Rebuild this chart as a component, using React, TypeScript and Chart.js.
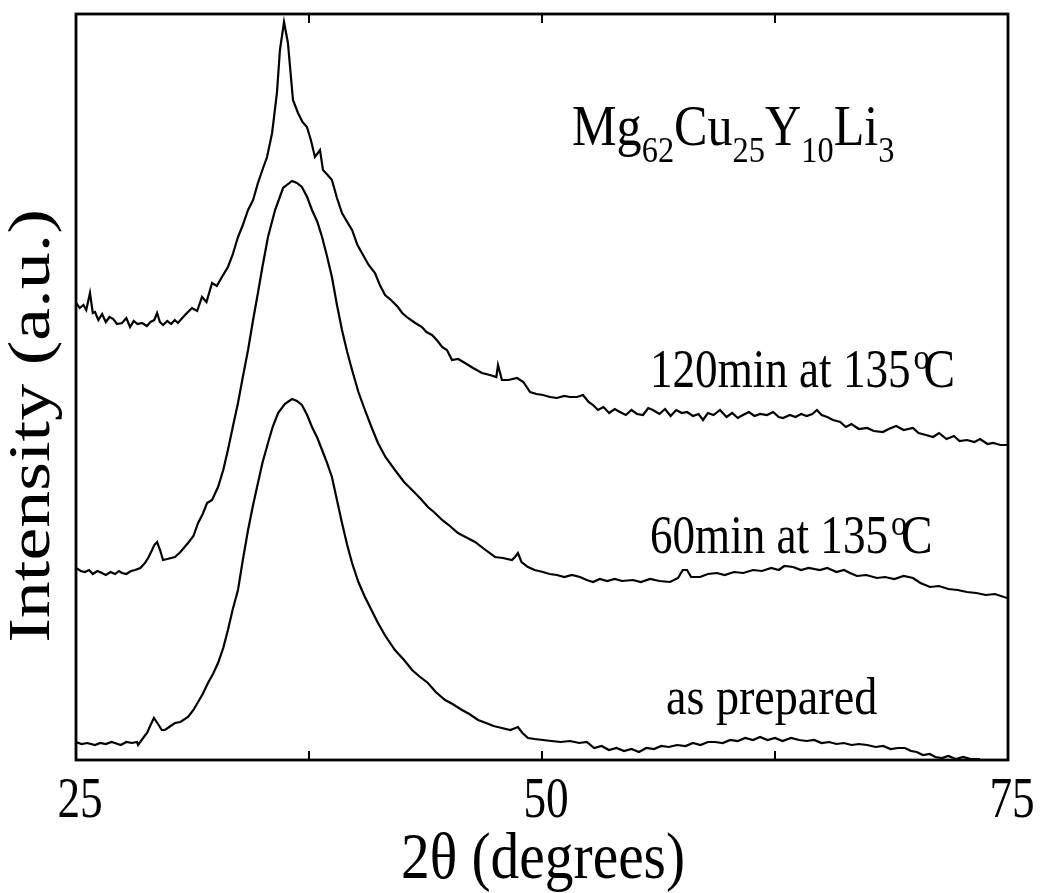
import React, { useEffect, useRef } from "react";
import { Chart, registerables } from "chart.js";

Chart.register(...registerables);

// 2θ (degrees) and intensity (a.u.) for each pattern
const x120 = [25.0, 25.2, 25.4, 25.55, 25.75, 25.9, 26.02, 26.2, 26.4, 26.6, 26.8, 27.0, 27.2, 27.47, 27.7, 27.9, 28.1, 28.3, 28.54, 28.8, 29.0, 29.2, 29.35, 29.5, 29.67, 29.9, 30.1, 30.3, 30.47, 30.7, 30.9, 31.22, 31.5, 31.76, 32.0, 32.3, 32.55, 32.83, 33.15, 33.4, 33.69, 33.95, 34.23, 34.5, 34.76, 35.0, 35.25, 35.52, 35.78, 35.94, 36.16, 36.37, 36.64, 36.91, 37.15, 37.39, 37.6, 37.82, 38.09, 38.25, 38.5, 38.73, 39.0, 39.27, 39.55, 39.81, 40.1, 40.34, 40.7, 41.04, 41.3, 41.58, 41.9, 42.27, 42.5, 42.81, 43.2, 43.56, 43.8, 44.1, 44.4, 44.64, 44.9, 45.17, 45.5, 45.87, 46.3, 46.78, 47.2, 47.55, 47.64, 47.85, 48.2, 48.66, 49.0, 49.36, 49.7, 50.05, 50.43, 50.8, 51.2, 51.5, 51.88, 52.2, 52.5, 52.74, 53.0, 53.3, 53.6, 53.9, 54.18, 54.5, 54.8, 55.1, 55.42, 55.7, 55.95, 56.3, 56.6, 56.9, 57.2, 57.5, 57.78, 58.1, 58.4, 58.64, 58.9, 59.2, 59.55, 59.9, 60.2, 60.5, 60.78, 61.1, 61.4, 61.7, 62.07, 62.4, 62.7, 62.93, 63.3, 63.6, 63.9, 64.2, 64.5, 64.75, 65.0, 65.3, 65.61, 66.0, 66.3, 66.6, 67.0, 67.44, 67.8, 68.29, 68.6, 69.0, 69.4, 69.9, 70.2, 70.6, 70.98, 71.3, 71.7, 72.1, 72.4, 72.8, 73.2, 73.5, 73.9, 74.2, 74.6, 74.95];
const y120 = [457, 452, 455, 450, 467, 447, 448, 440, 446, 438, 443, 441, 436, 437, 442, 433, 439, 436, 437, 434, 438, 440, 447, 438, 435, 439, 436, 440, 437, 442, 446, 452, 449, 463, 458, 477, 474, 483, 493, 505, 523, 535, 550, 560, 577, 590, 603, 627, 667, 710, 738, 717, 660, 647, 638, 633, 620, 603, 610, 590, 585, 580, 562, 547, 538, 530, 515, 507, 495, 487, 475, 465, 460, 453, 447, 442, 437, 433, 428, 425, 419, 413, 410, 400, 401, 397, 392, 387, 385, 383, 395, 380, 380, 382, 378, 368, 366, 365, 363, 362, 364, 363, 363, 365, 358, 355, 350, 353, 347, 351, 348, 345, 350, 346, 345, 352, 350, 346, 351, 344, 350, 347, 348, 344, 346, 340, 347, 345, 350, 343, 347, 342, 345, 348, 344, 346, 345, 348, 343, 342, 345, 343, 346, 344, 346, 350, 345, 343, 340, 338, 333, 336, 331, 332, 329, 328, 331, 334, 330, 332, 327, 325, 323, 327, 321, 324, 319, 320, 318, 321, 316, 317, 315, 315];

const x60 = [25.0, 25.25, 25.48, 25.7, 25.9, 26.15, 26.39, 26.6, 26.85, 27.1, 27.3, 27.47, 27.7, 27.95, 28.17, 28.45, 28.7, 28.9, 29.08, 29.2, 29.35, 29.51, 29.67, 29.9, 30.1, 30.31, 30.6, 31.01, 31.3, 31.55, 31.8, 32.03, 32.3, 32.62, 32.9, 33.15, 33.4, 33.69, 33.95, 34.23, 34.5, 34.76, 35.0, 35.3, 35.68, 36.11, 36.59, 36.85, 37.12, 37.4, 37.66, 37.95, 38.2, 38.45, 38.73, 39.0, 39.27, 39.55, 39.81, 40.15, 40.5, 40.85, 41.2, 41.6, 42.11, 42.6, 43.19, 43.5, 43.88, 44.2, 44.64, 45.0, 45.49, 46.0, 46.41, 46.9, 47.48, 47.9, 48.39, 48.55, 48.71, 48.9, 49.25, 49.6, 50.05, 50.4, 50.8, 51.2, 51.6, 52.04, 52.4, 52.74, 53.1, 53.5, 53.9, 54.3, 54.88, 55.3, 55.8, 56.3, 56.87, 57.3, 57.55, 57.78, 58.0, 58.48, 58.9, 59.39, 59.8, 60.3, 60.8, 61.32, 61.8, 62.3, 62.7, 63.0, 63.47, 63.9, 64.3, 64.91, 65.3, 65.8, 66.2, 66.52, 66.9, 67.4, 67.97, 68.4, 68.9, 69.4, 69.9, 70.3, 70.82, 71.3, 71.8, 72.3, 72.8, 73.3, 73.8, 74.3, 74.95];
const y60 = [192, 189, 188, 190, 186, 189, 187, 185, 188, 186, 189, 187, 186, 189, 190, 192, 197, 203, 210, 215, 218, 210, 200, 201, 202, 203, 208, 217, 224, 237, 246, 257, 260, 273, 290, 310, 332, 357, 383, 410, 440, 467, 493, 523, 550, 572, 579, 577, 573, 563, 550, 538, 523, 505, 483, 455, 430, 408, 390, 368, 350, 333, 317, 303, 290, 278, 267, 261, 253, 248, 240, 235, 227, 222, 218, 211, 203, 202, 200, 203, 207, 198, 193, 190, 188, 186, 185, 183, 185, 183, 180, 178, 181, 179, 181, 179, 180, 178, 181, 179, 178, 182, 190, 190, 183, 183, 186, 187, 185, 188, 187, 190, 189, 192, 190, 194, 193, 190, 192, 190, 192, 188, 190, 187, 184, 185, 182, 183, 181, 184, 182, 177, 173, 174, 171, 170, 168, 167, 165, 166, 162];

const xPrep = [25.0, 25.3, 25.6, 26.02, 26.3, 26.6, 26.9, 27.09, 27.4, 27.7, 28.0, 28.27, 28.33, 28.6, 28.81, 29.0, 29.18, 29.4, 29.6, 29.77, 30.0, 30.31, 30.6, 31.01, 31.3, 31.55, 31.8, 32.08, 32.35, 32.62, 32.9, 33.15, 33.4, 33.69, 33.95, 34.23, 34.5, 34.76, 35.0, 35.3, 35.55, 35.84, 36.2, 36.59, 36.85, 37.12, 37.4, 37.66, 37.95, 38.2, 38.45, 38.73, 39.0, 39.27, 39.55, 39.81, 40.15, 40.5, 40.85, 41.2, 41.6, 42.11, 42.6, 43.03, 43.4, 43.88, 44.3, 44.8, 45.2, 45.71, 46.1, 46.57, 47.0, 47.4, 47.85, 48.3, 48.71, 48.95, 49.25, 49.6, 50.05, 50.5, 51.0, 51.5, 52.0, 52.4, 52.8, 53.2, 53.59, 54.0, 54.4, 54.8, 55.2, 55.6, 56.0, 56.4, 56.8, 57.24, 57.7, 58.1, 58.5, 58.9, 59.28, 59.7, 60.1, 60.5, 60.9, 61.32, 61.7, 62.1, 62.5, 62.9, 63.36, 63.8, 64.2, 64.6, 65.0, 65.4, 65.8, 66.2, 66.6, 67.0, 67.44, 67.9, 68.3, 68.7, 69.1, 69.47, 69.8, 70.1, 70.44, 70.8, 71.1, 71.46, 71.8, 72.2, 72.6, 73.0, 73.5];
const yPrep = [18, 16, 17, 15, 17, 16, 18, 17, 15, 18, 17, 18, 15, 22, 27, 35, 42, 36, 30, 30, 33, 37, 38, 43, 50, 58, 66, 77, 86, 97, 112, 130, 150, 170, 200, 230, 255, 277, 297, 317, 333, 347, 356, 361, 359, 355, 345, 333, 322, 310, 298, 283, 260, 237, 215, 197, 178, 163, 150, 137, 124, 110, 100, 90, 84, 77, 68, 60, 56, 50, 46, 40, 37, 34, 32, 30, 33, 27, 22, 21, 20, 19, 18, 19, 17, 18, 12, 14, 10, 12, 9, 11, 8, 12, 11, 14, 13, 15, 14, 17, 15, 18, 18, 17, 20, 19, 22, 20, 23, 20, 22, 19, 22, 20, 19, 20, 17, 18, 16, 17, 15, 16, 15, 13, 14, 11, 12, 12, 9, 8, 5, 6, 3, 2, 4, 1, 3, 1, 1];

const xTickLabels = [25, 50, 75];
const xMinorTicks = [37.5, 50, 62.5];

const FONT = '"Liberation Serif", "Times New Roman", serif';

function sText(ctx: CanvasRenderingContext2D, txt: string, x: number, y: number, size: number, sx: number, align: CanvasTextAlign = "left", rot = 0) {
  ctx.save();
  ctx.translate(x, y);
  ctx.scale(sx, 1);
  if (rot) ctx.rotate(rot);
  ctx.font = `${size}px ${FONT}`;
  ctx.textAlign = align;
  ctx.textBaseline = "alphabetic";
  ctx.fillStyle = "#000";
  ctx.fillText(txt, 0, 0);
  ctx.restore();
}

function sWidth(ctx: CanvasRenderingContext2D, txt: string, size: number, sx: number) {
  ctx.save();
  ctx.font = `${size}px ${FONT}`;
  const w = ctx.measureText(txt).width * sx;
  ctx.restore();
  return w;
}

const decorPlugin = {
  id: "decor",
  afterDraw(chart: any) {
    const ctx: CanvasRenderingContext2D = chart.ctx;
    const { left, right, top, bottom } = chart.chartArea;
    const xs = chart.scales.x;
    ctx.save();
    ctx.strokeStyle = "#000";
    ctx.lineWidth = 2.8;
    ctx.strokeRect(left, top, right - left, bottom - top);
    ctx.lineWidth = 2;
    for (const v of xMinorTicks) {
      const px = xs.getPixelForValue(v);
      ctx.beginPath();
      ctx.moveTo(px, top);
      ctx.lineTo(px, top + 9);
      ctx.moveTo(px, bottom);
      ctx.lineTo(px, bottom - 9);
      ctx.stroke();
    }
    ctx.restore();

    // tick labels
    for (const v of xTickLabels) {
      sText(ctx, String(v), xs.getPixelForValue(v) + 4, 817, 58, 0.78, "center");
    }
    // axis titles
    sText(ctx, "2θ (degrees)", 543, 878, 66, 0.87, "center");
    sText(ctx, "Intensity (a.u.)", 49, 426, 74, 0.8, "center", -Math.PI / 2);

    // formula
    const parts: [string, boolean][] = [["Mg", false], ["62", true], ["Cu", false], ["25", true], ["Y", false], ["10", true], ["Li", false], ["3", true]];
    let cx = 572;
    for (const [t, sub] of parts) {
      const size = sub ? 36 : 57;
      const sx = sub ? 0.9 : 0.88;
      sText(ctx, t, cx, sub ? 162 : 145, size, sx, "left");
      cx += sWidth(ctx, t, size, sx);
    }

    // annotations with degree superscript
    const ann = (main: string, x: number, y: number) => {
      const w = sWidth(ctx, main, 55, 0.82);
      sText(ctx, main, x, y, 55, 0.82, "left");
      sText(ctx, "o", x + w + 3, y - 18, 36, 0.9, "left");
      sText(ctx, "C", x + w + 13, y, 55, 0.86, "left");
    };
    ann("120min at 135", 650, 387);
    ann("60min at 135", 650, 553);
    sText(ctx, "as prepared", 666, 714, 53, 0.87, "left");
  },
};

export default function App() {
  const ref = useRef<HTMLCanvasElement | null>(null);
  useEffect(() => {
    if (!ref.current) return;
    const mk = (xs: number[], ys: number[]) => xs.map((x, i) => ({ x, y: ys[i] }));
    const ds = (label: string, data: any[]) => ({
      label,
      data,
      borderColor: "#000",
      borderWidth: 2.2,
      pointRadius: 0,
      tension: 0,
      fill: false,
    });
    const chart = new Chart(ref.current, {
      type: "line",
      data: {
        datasets: [
          ds("120min at 135°C", mk(x120, y120)),
          ds("60min at 135°C", mk(x60, y60)),
          ds("as prepared", mk(xPrep, yPrep)),
        ],
      },
      options: {
        animation: false,
        responsive: false,
        layout: { padding: { left: 76, top: 14, right: 37, bottom: 133 } },
        plugins: { legend: { display: false }, tooltip: { enabled: false } },
        scales: {
          x: { type: "linear", min: 25, max: 75, display: false },
          y: { type: "linear", min: 0, max: 746, display: false },
        },
      },
      plugins: [decorPlugin],
    });
    return () => chart.destroy();
  }, []);
  return (
    <div style={{ position: "absolute", left: 0, top: 0, width: 1045, height: 893, background: "#fff" }}>
      <canvas ref={ref} width={1045} height={893} />
    </div>
  );
}
